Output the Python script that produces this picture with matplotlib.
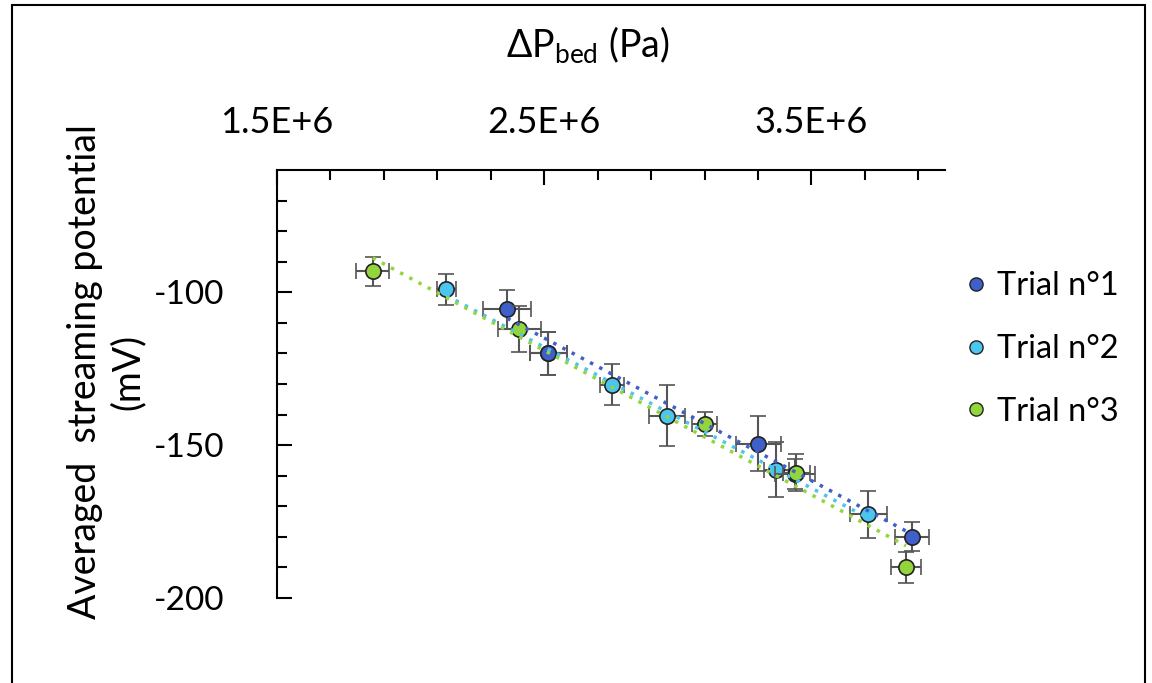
import numpy as np
import matplotlib
matplotlib.use("Agg")
import matplotlib.pyplot as plt
from matplotlib.lines import Line2D
from matplotlib.patches import Rectangle
from matplotlib.ticker import FixedLocator, FuncFormatter

plt.rcParams['font.family'] = ['Lato', 'DejaVu Sans']
plt.rcParams['mathtext.fontset'] = 'custom'
plt.rcParams['mathtext.rm'] = 'Lato'

# data (pressure in Pa, potential in mV)
names = ["Trial n°1", "Trial n°2", "Trial n°3"]
colors = ["#3F5FC9", "#4CC6EE", "#93D63C"]

dp_1 = [2.362e6, 2.515e6, 3.302e6, 3.440e6, 3.877e6]
v_1 = [-105.5, -120.0, -149.5, -159.5, -180.0]
xerr_1 = [0.09e6, 0.07e6, 0.084e6, 0.075e6, 0.063e6]
yerr_1 = [6.4, 7.0, 9.0, 5.0, 4.7]

dp_2 = [2.134e6, 2.515e6, 2.754e6, 2.959e6, 3.369e6, 3.713e6]
v_2 = [-99.0, -120.0, -130.3, -140.4, -158.0, -172.6]
xerr_2 = [0.035e6, 0.07e6, 0.045e6, 0.067e6, 0.047e6, 0.07e6]
yerr_2 = [5.0, 7.0, 6.7, 10.0, 9.0, 7.7]

dp_3 = [1.858e6, 2.407e6, 3.100e6, 3.444e6, 3.854e6]
v_3 = [-93.2, -112.0, -143.0, -159.0, -190.0]
xerr_3 = [0.063e6, 0.08e6, 0.045e6, 0.05e6, 0.055e6]
yerr_3 = [4.7, 7.5, 4.0, 6.0, 5.0]

x_major = [1.5e6, 2.5e6, 3.5e6]
y_major = [-100, -150, -200]

trials = [(dp_1, v_1, xerr_1, yerr_1), (dp_2, v_2, xerr_2, yerr_2), (dp_3, v_3, xerr_3, yerr_3)]
zorders = [4, 3, 5]

fig = plt.figure(figsize=(11.52, 6.83), dpi=100)
ax = fig.add_axes([277/1152, 1-598/683, (945-277)/1152, (598-170)/683])

for (x, y, xe, ye), c, z in zip(trials, colors, zorders):
    ax.errorbar(x, y, xerr=xe, yerr=ye, fmt='o', color=c, ms=11, mec='#222222', mew=1.2,
                ecolor='#555555', elinewidth=1.5, capsize=6, capthick=1.5, zorder=z)
for (x, y, xe, ye), c in zip(trials, colors):
    k, b = np.polyfit(x, y, 1)
    xx = np.array([min(x), max(x)])
    ax.plot(xx, k*xx + b, linestyle=(0, (1, 2)), color=c, lw=2.5, zorder=6)

ax.set_xlim(1.5e6, 4.0e6)
ax.set_ylim(-200, -60)
ax.set_xticks(x_major)
ax.xaxis.set_minor_locator(FixedLocator(np.arange(1.7e6, 4.0e6, 0.2e6)))
ax.set_yticks(y_major)
ax.yaxis.set_minor_locator(FixedLocator(np.arange(-190, -60, 10)))
ax.xaxis.set_major_formatter(FuncFormatter(lambda v, p: f"{v/1e6:.1f}E+6"))
ax.yaxis.set_major_formatter(FuncFormatter(lambda v, p: f"{v:.0f}"))

ax.xaxis.tick_top()
ax.spines['right'].set_visible(False)
ax.spines['bottom'].set_visible(False)
ax.spines['top'].set_linewidth(1.5)
ax.spines['left'].set_linewidth(1.5)
ax.tick_params(axis='both', which='major', direction='in', length=11, width=1.5)
ax.tick_params(axis='both', which='minor', direction='in', length=7.5, width=1.5)
ax.tick_params(axis='x', which='both', top=True, bottom=False, pad=22, labelsize=26)
ax.tick_params(axis='y', which='both', pad=38, labelsize=24)

fig.text(588/1152, 1-45/683, r"ΔP$_{\mathregular{bed}}$ (Pa)", ha='center', va='center', fontsize=27)
fig.text(85/1152, 1-372/683, "Averaged  streaming potential", rotation=90,
         ha='center', va='center', fontsize=27)
fig.text(128/1152, 1-372/683, "(mV)", rotation=90, ha='center', va='center', fontsize=27)

handles = [Line2D([], [], marker='o', ls='none', color=c, mec='#222222', mew=1.0, ms=9.5) for c in colors]
fig.legend(handles, names, loc='upper left', bbox_to_anchor=(930/1152, 1-242/683), frameon=False,
           fontsize=23.5, handletextpad=0.14, labelspacing=1.0, handlelength=1.0)

fig.add_artist(Rectangle((12/1152, -0.05), (1145-12)/1152, 1.05 - 5/683, transform=fig.transFigure,
                         fill=False, edgecolor='black', lw=1.5))

fig.savefig("out.png", dpi=100)
